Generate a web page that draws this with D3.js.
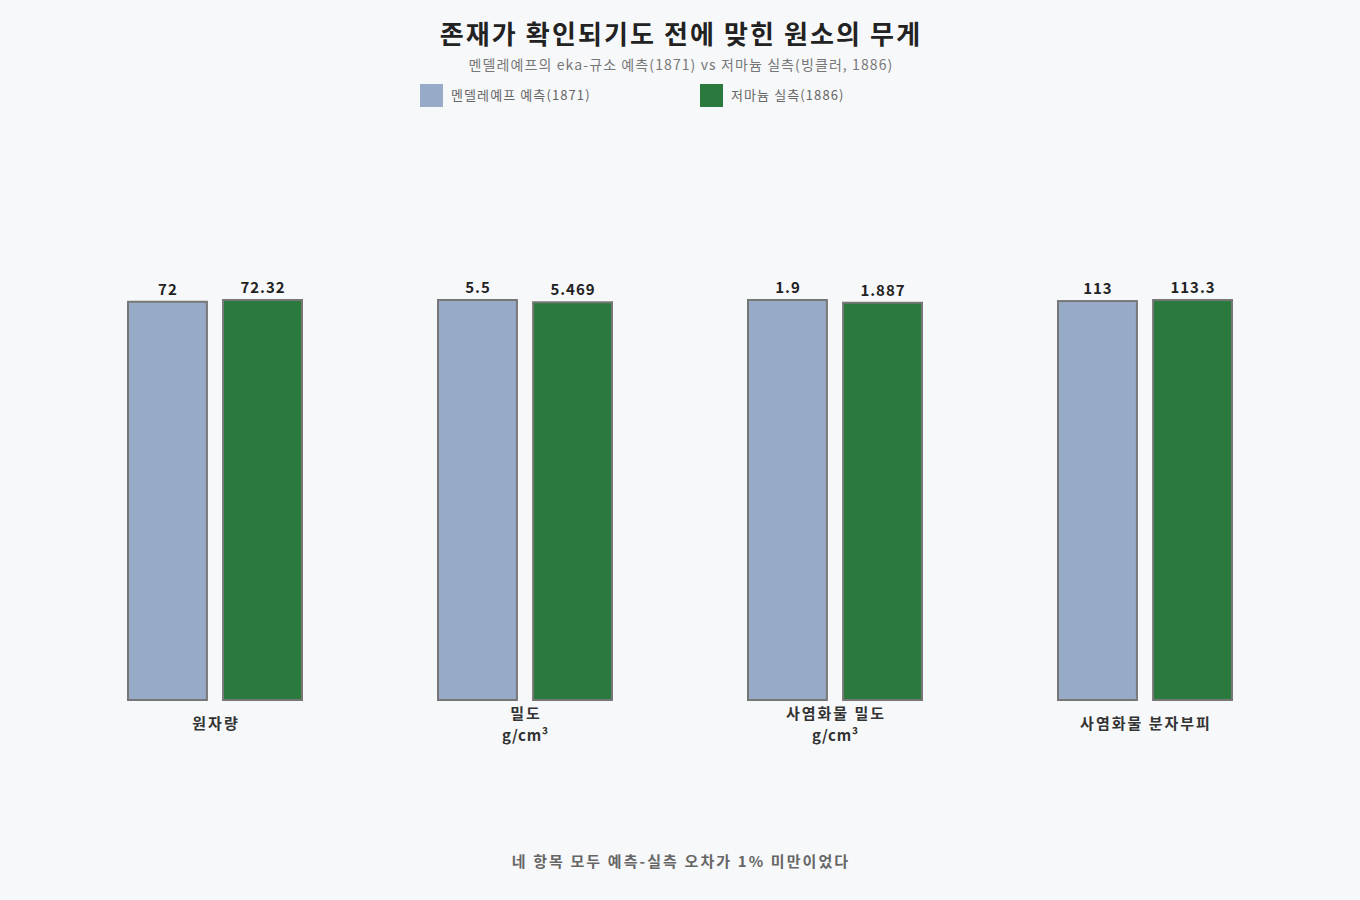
<!DOCTYPE html>
<html>
<head>
<meta charset="utf-8">
<script src="https://cdn.jsdelivr.net/npm/d3@7"></script>
<style>
  body { margin: 0; background: #f7f8fa; }
  svg { display: block; font-family: "Noto Sans CJK KR", "Noto Sans", sans-serif; }
</style>
</head>
<body>
<svg id="chart"></svg>
<script>
const categories = [["원자량"], ["밀도", "g/cm³"], ["사염화물 밀도", "g/cm³"], ["사염화물 분자부피"]];
const predicted = [72, 5.5, 1.9, 113];
const observed = [72.32, 5.469, 1.887, 113.3];
const predictedLabels = ["72", "5.5", "1.9", "113"];
const observedLabels = ["72.32", "5.469", "1.887", "113.3"];
const seriesNames = ["멘델레예프 예측(1871)", "저마늄 실측(1886)"];

const width = 1360, height = 900;
const margin = { top: 300, right: 60, bottom: 200, left: 60 };
const colors = ["#97aac7", "#2a7a3d"];

const svg = d3.select("#chart").attr("width", width).attr("height", height);
svg.append("rect").attr("width", width).attr("height", height).attr("fill", "#f7f8fa");

// 제목
svg.append("text").attr("x", 681).attr("y", 44).attr("text-anchor", "middle")
  .attr("font-size", 26).attr("font-weight", "bold").attr("fill", "#222")
  .attr("letter-spacing", 2.1)
  .text("존재가 확인되기도 전에 맞힌 원소의 무게");
svg.append("text").attr("x", 681).attr("y", 70).attr("text-anchor", "middle")
  .attr("font-size", 14).attr("fill", "#777").attr("letter-spacing", 1.1)
  .text("멘델레예프의 eka-규소 예측(1871) vs 저마늄 실측(빙클러, 1886)");

// 범례
const legendX = [420, 700];
seriesNames.forEach((name, i) => {
  svg.append("rect").attr("x", legendX[i]).attr("y", 84).attr("width", 23).attr("height", 23)
    .attr("fill", colors[i]);
  svg.append("text").attr("x", legendX[i] + 31).attr("y", 100)
    .attr("font-size", 13).attr("fill", "#666").attr("letter-spacing", 1.1).text(name);
});

// 스케일
const x0 = d3.scaleBand().domain(d3.range(categories.length))
  .range([margin.left, width - margin.right]);
const x1 = d3.scaleBand().domain([0, 1]).range([0, 174]).paddingInner(0.17);
const y = d3.scaleLinear().domain([0, 1]).range([height - margin.bottom, margin.top]);

const rows = categories.map((c, i) => {
  const m = Math.max(predicted[i], observed[i]);
  return {
    idx: i, label: c,
    bars: [
      { s: 0, v: predicted[i], r: predicted[i] / m, t: predictedLabels[i] },
      { s: 1, v: observed[i], r: observed[i] / m, t: observedLabels[i] }
    ]
  };
});

const groups = svg.append("g").selectAll("g").data(rows).join("g")
  .attr("transform", d => `translate(${x0(d.idx) + x0.bandwidth() / 2 - 87},0)`);

groups.selectAll("rect").data(d => d.bars).join("rect")
  .attr("x", d => x1(d.s)).attr("width", x1.bandwidth())
  .attr("y", d => y(d.r)).attr("height", d => y(0) - y(d.r))
  .attr("fill", d => colors[d.s]).attr("stroke", "#777").attr("stroke-width", 2);

groups.selectAll("text.val").data(d => d.bars).join("text").attr("class", "val")
  .attr("x", d => x1(d.s) + x1.bandwidth() / 2 + 0.5).attr("y", d => y(d.r) - 7)
  .attr("text-anchor", "middle").attr("font-size", 15).attr("font-weight", "bold")
  .attr("letter-spacing", 1).attr("fill", "#222").text(d => d.t);

// 항목 라벨
groups.each(function (d) {
  const g = d3.select(this);
  const startY = d.label.length === 1 ? 729 : 719;
  d.label.forEach((line, j) => {
    const ls = /^[\x00-\x7F³]+$/.test(line) ? 0.6 : 2;
    g.append("text").attr("x", 87 + ls / 2).attr("y", startY + j * 22)
      .attr("text-anchor", "middle").attr("font-size", 15).attr("font-weight", "bold")
      .attr("letter-spacing", ls).attr("fill", "#333").text(line);
  });
});

// 하단 메모
svg.append("text").attr("x", 681).attr("y", 867).attr("text-anchor", "middle")
  .attr("font-size", 15).attr("font-weight", "bold").attr("fill", "#666")
  .attr("letter-spacing", 2.1)
  .text("네 항목 모두 예측-실측 오차가 1% 미만이었다");
</script>
</body>
</html>
